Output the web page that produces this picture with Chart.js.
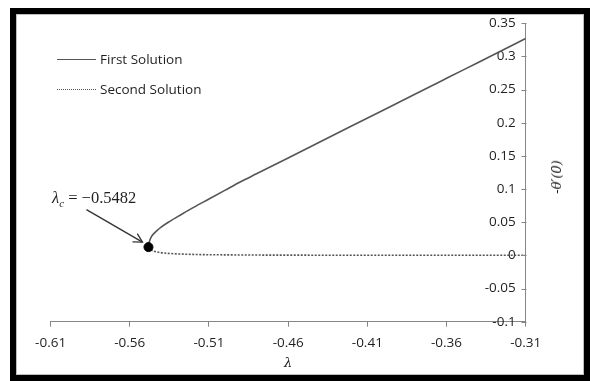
<!DOCTYPE html>
<html><head><meta charset="utf-8">
<script src="https://cdn.jsdelivr.net/npm/chart.js@4/dist/chart.umd.min.js"></script>
<style>
html,body{margin:0;padding:0;background:#fff;}
#wrap{position:relative;width:590px;height:381px;overflow:hidden;background:#fff;}
#frame{position:absolute;left:10px;top:8px;width:568px;height:361px;border:6px solid #000;}
#inner{position:absolute;left:0;top:0;right:0;bottom:0;border:1px solid #bdbdbd;}
#c{position:absolute;left:0;top:0;}
.leg{position:absolute;font-family:"Open Sans",sans-serif;font-size:13.5px;color:#1f1f1f;white-space:nowrap;line-height:16px;}
.sample{position:absolute;width:39px;height:0;}
#ann{position:absolute;font-family:"Liberation Serif",serif;font-size:16.5px;color:#1f1f1f;white-space:nowrap;line-height:18px;}
#ytitle{position:absolute;left:557px;top:177px;transform:translate(-50%,-50%) rotate(-90deg);font-family:"DejaVu Serif",serif;font-style:italic;font-size:13px;color:#111;white-space:nowrap;line-height:16px;}
</style></head>
<body>
<div id="wrap">
  <div id="frame"><div id="inner"></div></div>
  <canvas id="c" width="590" height="381"></canvas>
  <div class="sample" style="left:57px;top:59px;border-top:1.6px solid #555;"></div>
  <div class="leg" style="left:100px;top:51px;">First Solution</div>
  <div class="sample" style="left:57px;top:89px;border-top:1.6px dotted #555;"></div>
  <div class="leg" style="left:100px;top:81px;">Second Solution</div>
  <div id="ann" style="left:52px;top:189px;"><i>λ<sub style="font-size:11px;">c</sub></i> = −0.5482</div>
  <div id="ytitle">-θ′(0)</div>
</div>
<script>
// First (upper) solution branch
const lambdaFirst = [-0.5482,-0.5480,-0.5476,-0.5468,-0.5455,-0.543,-0.540,-0.535,-0.528,-0.52,-0.51,-0.50,-0.49,-0.48,-0.46,-0.44,-0.42,-0.40,-0.38,-0.36,-0.34,-0.32,-0.31];
const thetaFirst  = [0.0125,0.017,0.021,0.026,0.031,0.037,0.043,0.051,0.061,0.072,0.085,0.098,0.111,0.123,0.147,0.171,0.195,0.219,0.243,0.267,0.291,0.315,0.327];
// Second (lower) solution branch
const lambdaSecond = [-0.5482,-0.547,-0.545,-0.542,-0.538,-0.532,-0.525,-0.515,-0.50,-0.48,-0.44,-0.40,-0.35,-0.31];
const thetaSecond  = [0.0125,0.009,0.0065,0.0048,0.0035,0.0025,0.0018,0.0012,0.0008,0.0005,0.0003,0.0002,0.0001,0.0001];
// Critical point
const criticalLambda = [-0.5482];
const criticalTheta  = [0.0125];
// Axis ticks
const xTicks = [-0.61,-0.56,-0.51,-0.46,-0.41,-0.36,-0.31];
const yTicks = [-0.1,-0.05,0,0.05,0.1,0.15,0.2,0.25,0.3,0.35];

const toXY = (xs, ys) => xs.map((x, i) => ({x: x, y: ys[i]}));
const axisColor = '#868686';
const labelColor = '#1f1f1f';
const fmt = v => String(Number(Number(v).toFixed(2)));

const extras = {
  id: 'extras',
  afterDraw(chart) {
    const ctx = chart.ctx;
    const xs = chart.scales.x, ys = chart.scales.y;
    // inside tick marks for right-hand y axis
    ctx.save();
    ctx.strokeStyle = axisColor; ctx.lineWidth = 1;
    const ax = Math.round(ys.left) + 0.5;
    yTicks.forEach(v => {
      const py = Math.round(ys.getPixelForValue(v)) + 0.5;
      ctx.beginPath(); ctx.moveTo(ax - 5, py); ctx.lineTo(ax, py); ctx.stroke();
    });
    // arrow pointing at the critical point
    const px = xs.getPixelForValue(criticalLambda[0]);
    const py = ys.getPixelForValue(criticalTheta[0]);
    const tx = px - 6, ty = py - 5;
    const sx = tx - 56, sy = ty - 32.5;
    ctx.strokeStyle = '#333'; ctx.lineWidth = 1.3;
    ctx.beginPath(); ctx.moveTo(sx, sy); ctx.lineTo(tx, ty); ctx.stroke();
    const ang = Math.atan2(sy - ty, sx - tx);
    ctx.beginPath();
    ctx.moveTo(tx + 10 * Math.cos(ang - 0.5), ty + 10 * Math.sin(ang - 0.5));
    ctx.lineTo(tx, ty);
    ctx.lineTo(tx + 10 * Math.cos(ang + 0.5), ty + 10 * Math.sin(ang + 0.5));
    ctx.stroke();
    ctx.restore();
  }
};

new Chart(document.getElementById('c'), {
  type: 'scatter',
  data: {
    datasets: [
      {label: 'First Solution', data: toXY(lambdaFirst, thetaFirst), showLine: true, borderColor: '#555', borderWidth: 1.6, pointRadius: 0, cubicInterpolationMode: 'monotone', order: 2},
      {label: 'Second Solution', data: toXY(lambdaSecond, thetaSecond), showLine: true, borderColor: '#555', borderWidth: 1.6, borderDash: [2, 1.5], pointRadius: 0, cubicInterpolationMode: 'monotone', order: 2},
      {label: 'Critical', data: toXY(criticalLambda, criticalTheta), showLine: false, pointRadius: 4.5, pointBackgroundColor: '#000', pointBorderColor: '#000', order: 1}
    ]
  },
  options: {
    responsive: false,
    animation: false,
    events: [],
    layout: {padding: {left: 50.6, top: 23.3, right: 0, bottom: 0}},
    plugins: {legend: {display: false}, tooltip: {enabled: false}},
    scales: {
      x: {
        type: 'linear', position: 'bottom', min: -0.61, max: -0.31,
        afterBuildTicks: s => { s.ticks = xTicks.map(v => ({value: v})); },
        afterFit: s => { s.height = 59.3; },
        grid: {drawOnChartArea: false, drawTicks: true, tickLength: 5, color: axisColor},
        border: {display: true, color: axisColor, width: 1},
        ticks: {color: labelColor, font: {family: 'Open Sans', size: 13.5}, padding: 8, maxRotation: 0, callback: v => fmt(v)},
        title: {display: true, text: 'λ', color: labelColor, font: {family: 'DejaVu Serif', size: 13, style: 'italic'}, padding: {top: 0, bottom: 10}}
      },
      y: {
        type: 'linear', position: 'right', min: -0.1, max: 0.35,
        afterBuildTicks: s => { s.ticks = yTicks.map(v => ({value: v})); },
        afterFit: s => { s.width = 64.3; },
        grid: {drawOnChartArea: false, drawTicks: false, color: axisColor},
        border: {display: true, color: axisColor, width: 1},
        ticks: {mirror: true, color: labelColor, font: {family: 'Open Sans', size: 13.5}, padding: -10, callback: v => fmt(v)},
        title: {display: false}
      }
    }
  },
  plugins: [extras]
});
</script>
</body></html>
